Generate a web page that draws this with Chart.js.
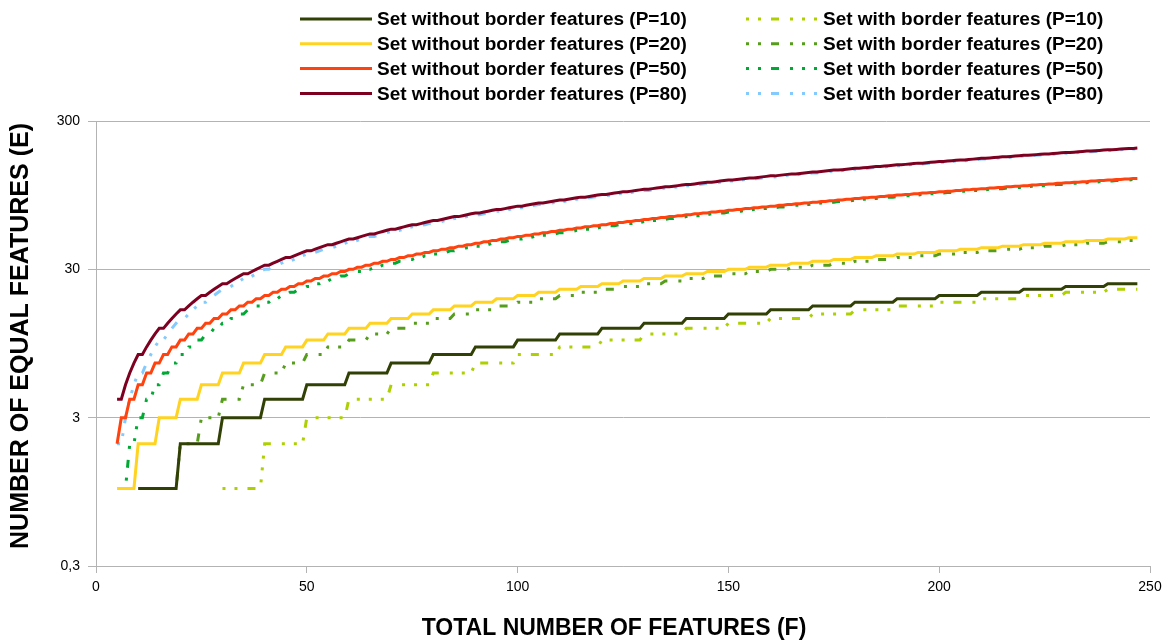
<!DOCTYPE html>
<html>
<head>
<meta charset="utf-8">
<script src="https://cdn.jsdelivr.net/npm/chart.js"></script>
<style>
  html, body { margin: 0; padding: 0; background: #fff; }
</style>
</head>
<body>
<canvas id="features" width="1172" height="641"></canvas>
<script>
// total number of features F runs from 5 up to 247, one value per F
const firstF = 5;
const xTicks = [0, 50, 100, 150, 200, 250];
const yTicks = [0.3, 3, 30, 300];
const xTitle = 'TOTAL NUMBER OF FEATURES (F)';
const yTitle = 'NUMBER OF EQUAL FEATURES (E)';

// number of equal features E, set without border features
const noBorder10 = [
  null, null, null, null, null,
  1, 1, 1, 1, 1, 1, 1, 1, 1, 1,
  2, 2, 2, 2, 2, 2, 2, 2, 2, 2,
  3, 3, 3, 3, 3, 3, 3, 3, 3, 3,
  4, 4, 4, 4, 4, 4, 4, 4, 4, 4,
  5, 5, 5, 5, 5, 5, 5, 5, 5, 5,
  6, 6, 6, 6, 6, 6, 6, 6, 6, 6,
  7, 7, 7, 7, 7, 7, 7, 7, 7, 7,
  8, 8, 8, 8, 8, 8, 8, 8, 8, 8,
  9, 9, 9, 9, 9, 9, 9, 9, 9, 9,
  10, 10, 10, 10, 10, 10, 10, 10, 10, 10,
  11, 11, 11, 11, 11, 11, 11, 11, 11, 11,
  12, 12, 12, 12, 12, 12, 12, 12, 12, 12,
  13, 13, 13, 13, 13, 13, 13, 13, 13, 13,
  14, 14, 14, 14, 14, 14, 14, 14, 14, 14,
  15, 15, 15, 15, 15, 15, 15, 15, 15, 15,
  16, 16, 16, 16, 16, 16, 16, 16, 16, 16,
  17, 17, 17, 17, 17, 17, 17, 17, 17, 17,
  18, 18, 18, 18, 18, 18, 18, 18, 18, 18,
  19, 19, 19, 19, 19, 19, 19, 19, 19, 19,
  20, 20, 20, 20, 20, 20, 20, 20, 20, 20,
  21, 21, 21, 21, 21, 21, 21, 21, 21, 21,
  22, 22, 22, 22, 22, 22, 22, 22, 22, 22,
  23, 23, 23, 23, 23, 23, 23, 23, 23, 23,
  24, 24, 24, 24, 24, 24, 24, 24
];
const noBorder20 = [
  1, 1, 1, 1, 1,
  2, 2, 2, 2, 2, 3, 3, 3, 3, 3,
  4, 4, 4, 4, 4, 5, 5, 5, 5, 5,
  6, 6, 6, 6, 6, 7, 7, 7, 7, 7,
  8, 8, 8, 8, 8, 9, 9, 9, 9, 9,
  10, 10, 10, 10, 10, 11, 11, 11, 11, 11,
  12, 12, 12, 12, 12, 13, 13, 13, 13, 13,
  14, 14, 14, 14, 14, 15, 15, 15, 15, 15,
  16, 16, 16, 16, 16, 17, 17, 17, 17, 17,
  18, 18, 18, 18, 18, 19, 19, 19, 19, 19,
  20, 20, 20, 20, 20, 21, 21, 21, 21, 21,
  22, 22, 22, 22, 22, 23, 23, 23, 23, 23,
  24, 24, 24, 24, 24, 25, 25, 25, 25, 25,
  26, 26, 26, 26, 26, 27, 27, 27, 27, 27,
  28, 28, 28, 28, 28, 29, 29, 29, 29, 29,
  30, 30, 30, 30, 30, 31, 31, 31, 31, 31,
  32, 32, 32, 32, 32, 33, 33, 33, 33, 33,
  34, 34, 34, 34, 34, 35, 35, 35, 35, 35,
  36, 36, 36, 36, 36, 37, 37, 37, 37, 37,
  38, 38, 38, 38, 38, 39, 39, 39, 39, 39,
  40, 40, 40, 40, 40, 41, 41, 41, 41, 41,
  42, 42, 42, 42, 42, 43, 43, 43, 43, 43,
  44, 44, 44, 44, 44, 45, 45, 45, 45, 45,
  46, 46, 46, 46, 46, 47, 47, 47, 47, 47,
  48, 48, 48, 48, 48, 49, 49, 49
];
const noBorder50 = [
  2, 3, 3, 4, 4,
  5, 5, 6, 6, 7, 7, 8, 8, 9, 9,
  10, 10, 11, 11, 12, 12, 13, 13, 14, 14,
  15, 15, 16, 16, 17, 17, 18, 18, 19, 19,
  20, 20, 21, 21, 22, 22, 23, 23, 24, 24,
  25, 25, 26, 26, 27, 27, 28, 28, 29, 29,
  30, 30, 31, 31, 32, 32, 33, 33, 34, 34,
  35, 35, 36, 36, 37, 37, 38, 38, 39, 39,
  40, 40, 41, 41, 42, 42, 43, 43, 44, 44,
  45, 45, 46, 46, 47, 47, 48, 48, 49, 49,
  50, 50, 51, 51, 52, 52, 53, 53, 54, 54,
  55, 55, 56, 56, 57, 57, 58, 58, 59, 59,
  60, 60, 61, 61, 62, 62, 63, 63, 64, 64,
  65, 65, 66, 66, 67, 67, 68, 68, 69, 69,
  70, 70, 71, 71, 72, 72, 73, 73, 74, 74,
  75, 75, 76, 76, 77, 77, 78, 78, 79, 79,
  80, 80, 81, 81, 82, 82, 83, 83, 84, 84,
  85, 85, 86, 86, 87, 87, 88, 88, 89, 89,
  90, 90, 91, 91, 92, 92, 93, 93, 94, 94,
  95, 95, 96, 96, 97, 97, 98, 98, 99, 99,
  100, 100, 101, 101, 102, 102, 103, 103, 104, 104,
  105, 105, 106, 106, 107, 107, 108, 108, 109, 109,
  110, 110, 111, 111, 112, 112, 113, 113, 114, 114,
  115, 115, 116, 116, 117, 117, 118, 118, 119, 119,
  120, 120, 121, 121, 122, 122, 123, 123
];
const noBorder80 = [
  4, 4, 5, 6, 7,
  8, 8, 9, 10, 11, 12, 12, 13, 14, 15,
  16, 16, 17, 18, 19, 20, 20, 21, 22, 23,
  24, 24, 25, 26, 27, 28, 28, 29, 30, 31,
  32, 32, 33, 34, 35, 36, 36, 37, 38, 39,
  40, 40, 41, 42, 43, 44, 44, 45, 46, 47,
  48, 48, 49, 50, 51, 52, 52, 53, 54, 55,
  56, 56, 57, 58, 59, 60, 60, 61, 62, 63,
  64, 64, 65, 66, 67, 68, 68, 69, 70, 71,
  72, 72, 73, 74, 75, 76, 76, 77, 78, 79,
  80, 80, 81, 82, 83, 84, 84, 85, 86, 87,
  88, 88, 89, 90, 91, 92, 92, 93, 94, 95,
  96, 96, 97, 98, 99, 100, 100, 101, 102, 103,
  104, 104, 105, 106, 107, 108, 108, 109, 110, 111,
  112, 112, 113, 114, 115, 116, 116, 117, 118, 119,
  120, 120, 121, 122, 123, 124, 124, 125, 126, 127,
  128, 128, 129, 130, 131, 132, 132, 133, 134, 135,
  136, 136, 137, 138, 139, 140, 140, 141, 142, 143,
  144, 144, 145, 146, 147, 148, 148, 149, 150, 151,
  152, 152, 153, 154, 155, 156, 156, 157, 158, 159,
  160, 160, 161, 162, 163, 164, 164, 165, 166, 167,
  168, 168, 169, 170, 171, 172, 172, 173, 174, 175,
  176, 176, 177, 178, 179, 180, 180, 181, 182, 183,
  184, 184, 185, 186, 187, 188, 188, 189, 190, 191,
  192, 192, 193, 194, 195, 196, 196, 197
];

// number of equal features E, set with border features
const withBorder10 = [
  null, null, null, null, null,
  null, null, null, null, null, null, null, null, null, null,
  null, null, null, null, null, null, null, null, null, null,
  1, 1, 1, 1, 1, 1, 1, 1, 1, 1,
  2, 2, 2, 2, 2, 2, 2, 2, 2, 2,
  3, 3, 3, 3, 3, 3, 3, 3, 3, 3,
  4, 4, 4, 4, 4, 4, 4, 4, 4, 4,
  5, 5, 5, 5, 5, 5, 5, 5, 5, 5,
  6, 6, 6, 6, 6, 6, 6, 6, 6, 6,
  7, 7, 7, 7, 7, 7, 7, 7, 7, 7,
  8, 8, 8, 8, 8, 8, 8, 8, 8, 8,
  9, 9, 9, 9, 9, 9, 9, 9, 9, 9,
  10, 10, 10, 10, 10, 10, 10, 10, 10, 10,
  11, 11, 11, 11, 11, 11, 11, 11, 11, 11,
  12, 12, 12, 12, 12, 12, 12, 12, 12, 12,
  13, 13, 13, 13, 13, 13, 13, 13, 13, 13,
  14, 14, 14, 14, 14, 14, 14, 14, 14, 14,
  15, 15, 15, 15, 15, 15, 15, 15, 15, 15,
  16, 16, 16, 16, 16, 16, 16, 16, 16, 16,
  17, 17, 17, 17, 17, 17, 17, 17, 17, 17,
  18, 18, 18, 18, 18, 18, 18, 18, 18, 18,
  19, 19, 19, 19, 19, 19, 19, 19, 19, 19,
  20, 20, 20, 20, 20, 20, 20, 20, 20, 20,
  21, 21, 21, 21, 21, 21, 21, 21, 21, 21,
  22, 22, 22, 22, 22, 22, 22, 22
];
const withBorder20 = [
  null, null, null, null, null,
  null, null, null, null, null, 1, 1, 1, 1, 1,
  2, 2, 2, 2, 2, 3, 3, 3, 3, 3,
  4, 4, 4, 4, 4, 5, 5, 5, 5, 5,
  6, 6, 6, 6, 6, 7, 7, 7, 7, 7,
  8, 8, 8, 8, 8, 9, 9, 9, 9, 9,
  10, 10, 10, 10, 10, 11, 11, 11, 11, 11,
  12, 12, 12, 12, 12, 13, 13, 13, 13, 13,
  14, 14, 14, 14, 14, 15, 15, 15, 15, 15,
  16, 16, 16, 16, 16, 17, 17, 17, 17, 17,
  18, 18, 18, 18, 18, 19, 19, 19, 19, 19,
  20, 20, 20, 20, 20, 21, 21, 21, 21, 21,
  22, 22, 22, 22, 22, 23, 23, 23, 23, 23,
  24, 24, 24, 24, 24, 25, 25, 25, 25, 25,
  26, 26, 26, 26, 26, 27, 27, 27, 27, 27,
  28, 28, 28, 28, 28, 29, 29, 29, 29, 29,
  30, 30, 30, 30, 30, 31, 31, 31, 31, 31,
  32, 32, 32, 32, 32, 33, 33, 33, 33, 33,
  34, 34, 34, 34, 34, 35, 35, 35, 35, 35,
  36, 36, 36, 36, 36, 37, 37, 37, 37, 37,
  38, 38, 38, 38, 38, 39, 39, 39, 39, 39,
  40, 40, 40, 40, 40, 41, 41, 41, 41, 41,
  42, 42, 42, 42, 42, 43, 43, 43, 43, 43,
  44, 44, 44, 44, 44, 45, 45, 45, 45, 45,
  46, 46, 46, 46, 46, 47, 47, 47
];
const withBorder50 = [
  null, 1, 1, 2, 2,
  3, 3, 4, 4, 5, 5, 6, 6, 7, 7,
  8, 8, 9, 9, 10, 10, 11, 11, 12, 12,
  13, 13, 14, 14, 15, 15, 16, 16, 17, 17,
  18, 18, 19, 19, 20, 20, 21, 21, 22, 22,
  23, 23, 24, 24, 25, 25, 26, 26, 27, 27,
  28, 28, 29, 29, 30, 30, 31, 31, 32, 32,
  33, 33, 34, 34, 35, 35, 36, 36, 37, 37,
  38, 38, 39, 39, 40, 40, 41, 41, 42, 42,
  43, 43, 44, 44, 45, 45, 46, 46, 47, 47,
  48, 48, 49, 49, 50, 50, 51, 51, 52, 52,
  53, 53, 54, 54, 55, 55, 56, 56, 57, 57,
  58, 58, 59, 59, 60, 60, 61, 61, 62, 62,
  63, 63, 64, 64, 65, 65, 66, 66, 67, 67,
  68, 68, 69, 69, 70, 70, 71, 71, 72, 72,
  73, 73, 74, 74, 75, 75, 76, 76, 77, 77,
  78, 78, 79, 79, 80, 80, 81, 81, 82, 82,
  83, 83, 84, 84, 85, 85, 86, 86, 87, 87,
  88, 88, 89, 89, 90, 90, 91, 91, 92, 92,
  93, 93, 94, 94, 95, 95, 96, 96, 97, 97,
  98, 98, 99, 99, 100, 100, 101, 101, 102, 102,
  103, 103, 104, 104, 105, 105, 106, 106, 107, 107,
  108, 108, 109, 109, 110, 110, 111, 111, 112, 112,
  113, 113, 114, 114, 115, 115, 116, 116, 117, 117,
  118, 118, 119, 119, 120, 120, 121, 121
];
const withBorder80 = [
  2, 2, 3, 4, 5,
  6, 6, 7, 8, 9, 10, 10, 11, 12, 13,
  14, 14, 15, 16, 17, 18, 18, 19, 20, 21,
  22, 22, 23, 24, 25, 26, 26, 27, 28, 29,
  30, 30, 31, 32, 33, 34, 34, 35, 36, 37,
  38, 38, 39, 40, 41, 42, 42, 43, 44, 45,
  46, 46, 47, 48, 49, 50, 50, 51, 52, 53,
  54, 54, 55, 56, 57, 58, 58, 59, 60, 61,
  62, 62, 63, 64, 65, 66, 66, 67, 68, 69,
  70, 70, 71, 72, 73, 74, 74, 75, 76, 77,
  78, 78, 79, 80, 81, 82, 82, 83, 84, 85,
  86, 86, 87, 88, 89, 90, 90, 91, 92, 93,
  94, 94, 95, 96, 97, 98, 98, 99, 100, 101,
  102, 102, 103, 104, 105, 106, 106, 107, 108, 109,
  110, 110, 111, 112, 113, 114, 114, 115, 116, 117,
  118, 118, 119, 120, 121, 122, 122, 123, 124, 125,
  126, 126, 127, 128, 129, 130, 130, 131, 132, 133,
  134, 134, 135, 136, 137, 138, 138, 139, 140, 141,
  142, 142, 143, 144, 145, 146, 146, 147, 148, 149,
  150, 150, 151, 152, 153, 154, 154, 155, 156, 157,
  158, 158, 159, 160, 161, 162, 162, 163, 164, 165,
  166, 166, 167, 168, 169, 170, 170, 171, 172, 173,
  174, 174, 175, 176, 177, 178, 178, 179, 180, 181,
  182, 182, 183, 184, 185, 186, 186, 187, 188, 189,
  190, 190, 191, 192, 193, 194, 194, 195
];

const seriesNames = [
  'Set without border features (P=10)',
  'Set without border features (P=20)',
  'Set without border features (P=50)',
  'Set without border features (P=80)',
  'Set with border features (P=10)',
  'Set with border features (P=20)',
  'Set with border features (P=50)',
  'Set with border features (P=80)'
];
const seriesValues = [
  noBorder10, noBorder20, noBorder50, noBorder80,
  withBorder10, withBorder20, withBorder50, withBorder80
];
const seriesColors = [
  '#314004', '#ffd320', '#ff420e', '#7e0021',
  '#aecf00', '#579d1c', '#00a933', '#83caff'
];

const FONT = '"Liberation Sans", Arial, sans-serif';
const GRID = '#b3b3b3';
// dash, gap, dot, gap, dot, gap, dot, gap
const dashDotDot = [8, 11, 3, 9, 3, 9, 3, 10];
const dashStart = 31;

function toPoints(values) {
  return values.map((v, i) => ({ x: firstF + i, y: v }));
}

const datasets = seriesNames.map((name, i) => ({
  label: name,
  data: toPoints(seriesValues[i]),
  borderColor: seriesColors[i],
  backgroundColor: seriesColors[i],
  borderWidth: 3,
  borderCapStyle: 'butt',
  borderDash: i < 4 ? [] : dashDotDot,
  borderDashOffset: i < 4 ? 0 : dashStart,
  pointRadius: 0,
  tension: 0,
  spanGaps: false
}));

// two column legend: sets without border on the left, with border on the right
const columnLegend = {
  id: 'columnLegend',
  afterDraw(chart) {
    const ctx = chart.ctx;
    ctx.save();
    ctx.font = 'bold 19px ' + FONT;
    ctx.textBaseline = 'middle';
    ctx.fillStyle = '#000';
    chart.data.datasets.forEach((ds, i) => {
      const x0 = i < 4 ? 300 : 746;
      const y = 19 + (i % 4) * 24.8;
      ctx.beginPath();
      ctx.strokeStyle = ds.borderColor;
      ctx.lineWidth = ds.borderWidth;
      ctx.lineCap = 'butt';
      ctx.setLineDash(ds.borderDash);
      ctx.lineDashOffset = ds.borderDashOffset;
      ctx.moveTo(x0, y);
      ctx.lineTo(x0 + 72, y);
      ctx.stroke();
      ctx.setLineDash([]);
      ctx.fillText(ds.label, x0 + 77, y + 1);
    });
    ctx.restore();
  }
};

// axis titles, placed a little off the plot centre
const axisTitles = {
  id: 'axisTitles',
  afterDraw(chart) {
    const ctx = chart.ctx;
    ctx.save();
    ctx.fillStyle = '#000';
    ctx.textAlign = 'center';
    ctx.textBaseline = 'middle';
    ctx.font = 'bold 23px ' + FONT;
    ctx.fillText(xTitle, 614, 629);
    ctx.translate(21, 336);
    ctx.rotate(-Math.PI / 2);
    ctx.font = 'bold 25px ' + FONT;
    ctx.fillText(yTitle, 0, 0);
    ctx.restore();
  }
};

new Chart(document.getElementById('features'), {
  type: 'line',
  data: { datasets: datasets },
  plugins: [columnLegend, axisTitles],
  options: {
    responsive: false,
    animation: false,
    layout: { padding: { top: 121, right: 22, left: 0, bottom: 0 } },
    plugins: {
      legend: { display: false },
      tooltip: { enabled: false }
    },
    scales: {
      x: {
        type: 'linear',
        min: 0,
        max: 250,
        afterBuildTicks: (scale) => { scale.ticks = xTicks.map(v => ({ value: v })); },
        afterFit: (scale) => { scale.height = 75; },
        ticks: {
          color: '#000',
          padding: 6,
          maxRotation: 0,
          font: { family: FONT, size: 14 }
        },
        grid: { drawOnChartArea: false, color: GRID, tickLength: 7 },
        border: { color: GRID }
      },
      y: {
        type: 'logarithmic',
        min: 0.3,
        max: 300,
        afterBuildTicks: (scale) => { scale.ticks = yTicks.map(v => ({ value: v })); },
        afterFit: (scale) => { scale.width = 96; },
        ticks: {
          color: '#000',
          padding: 8,
          font: { family: FONT, size: 14 },
          callback: (v) => String(v).replace('.', ',')
        },
        grid: { color: GRID, tickLength: 8 },
        border: { color: GRID }
      }
    }
  }
});
</script>
</body>
</html>
